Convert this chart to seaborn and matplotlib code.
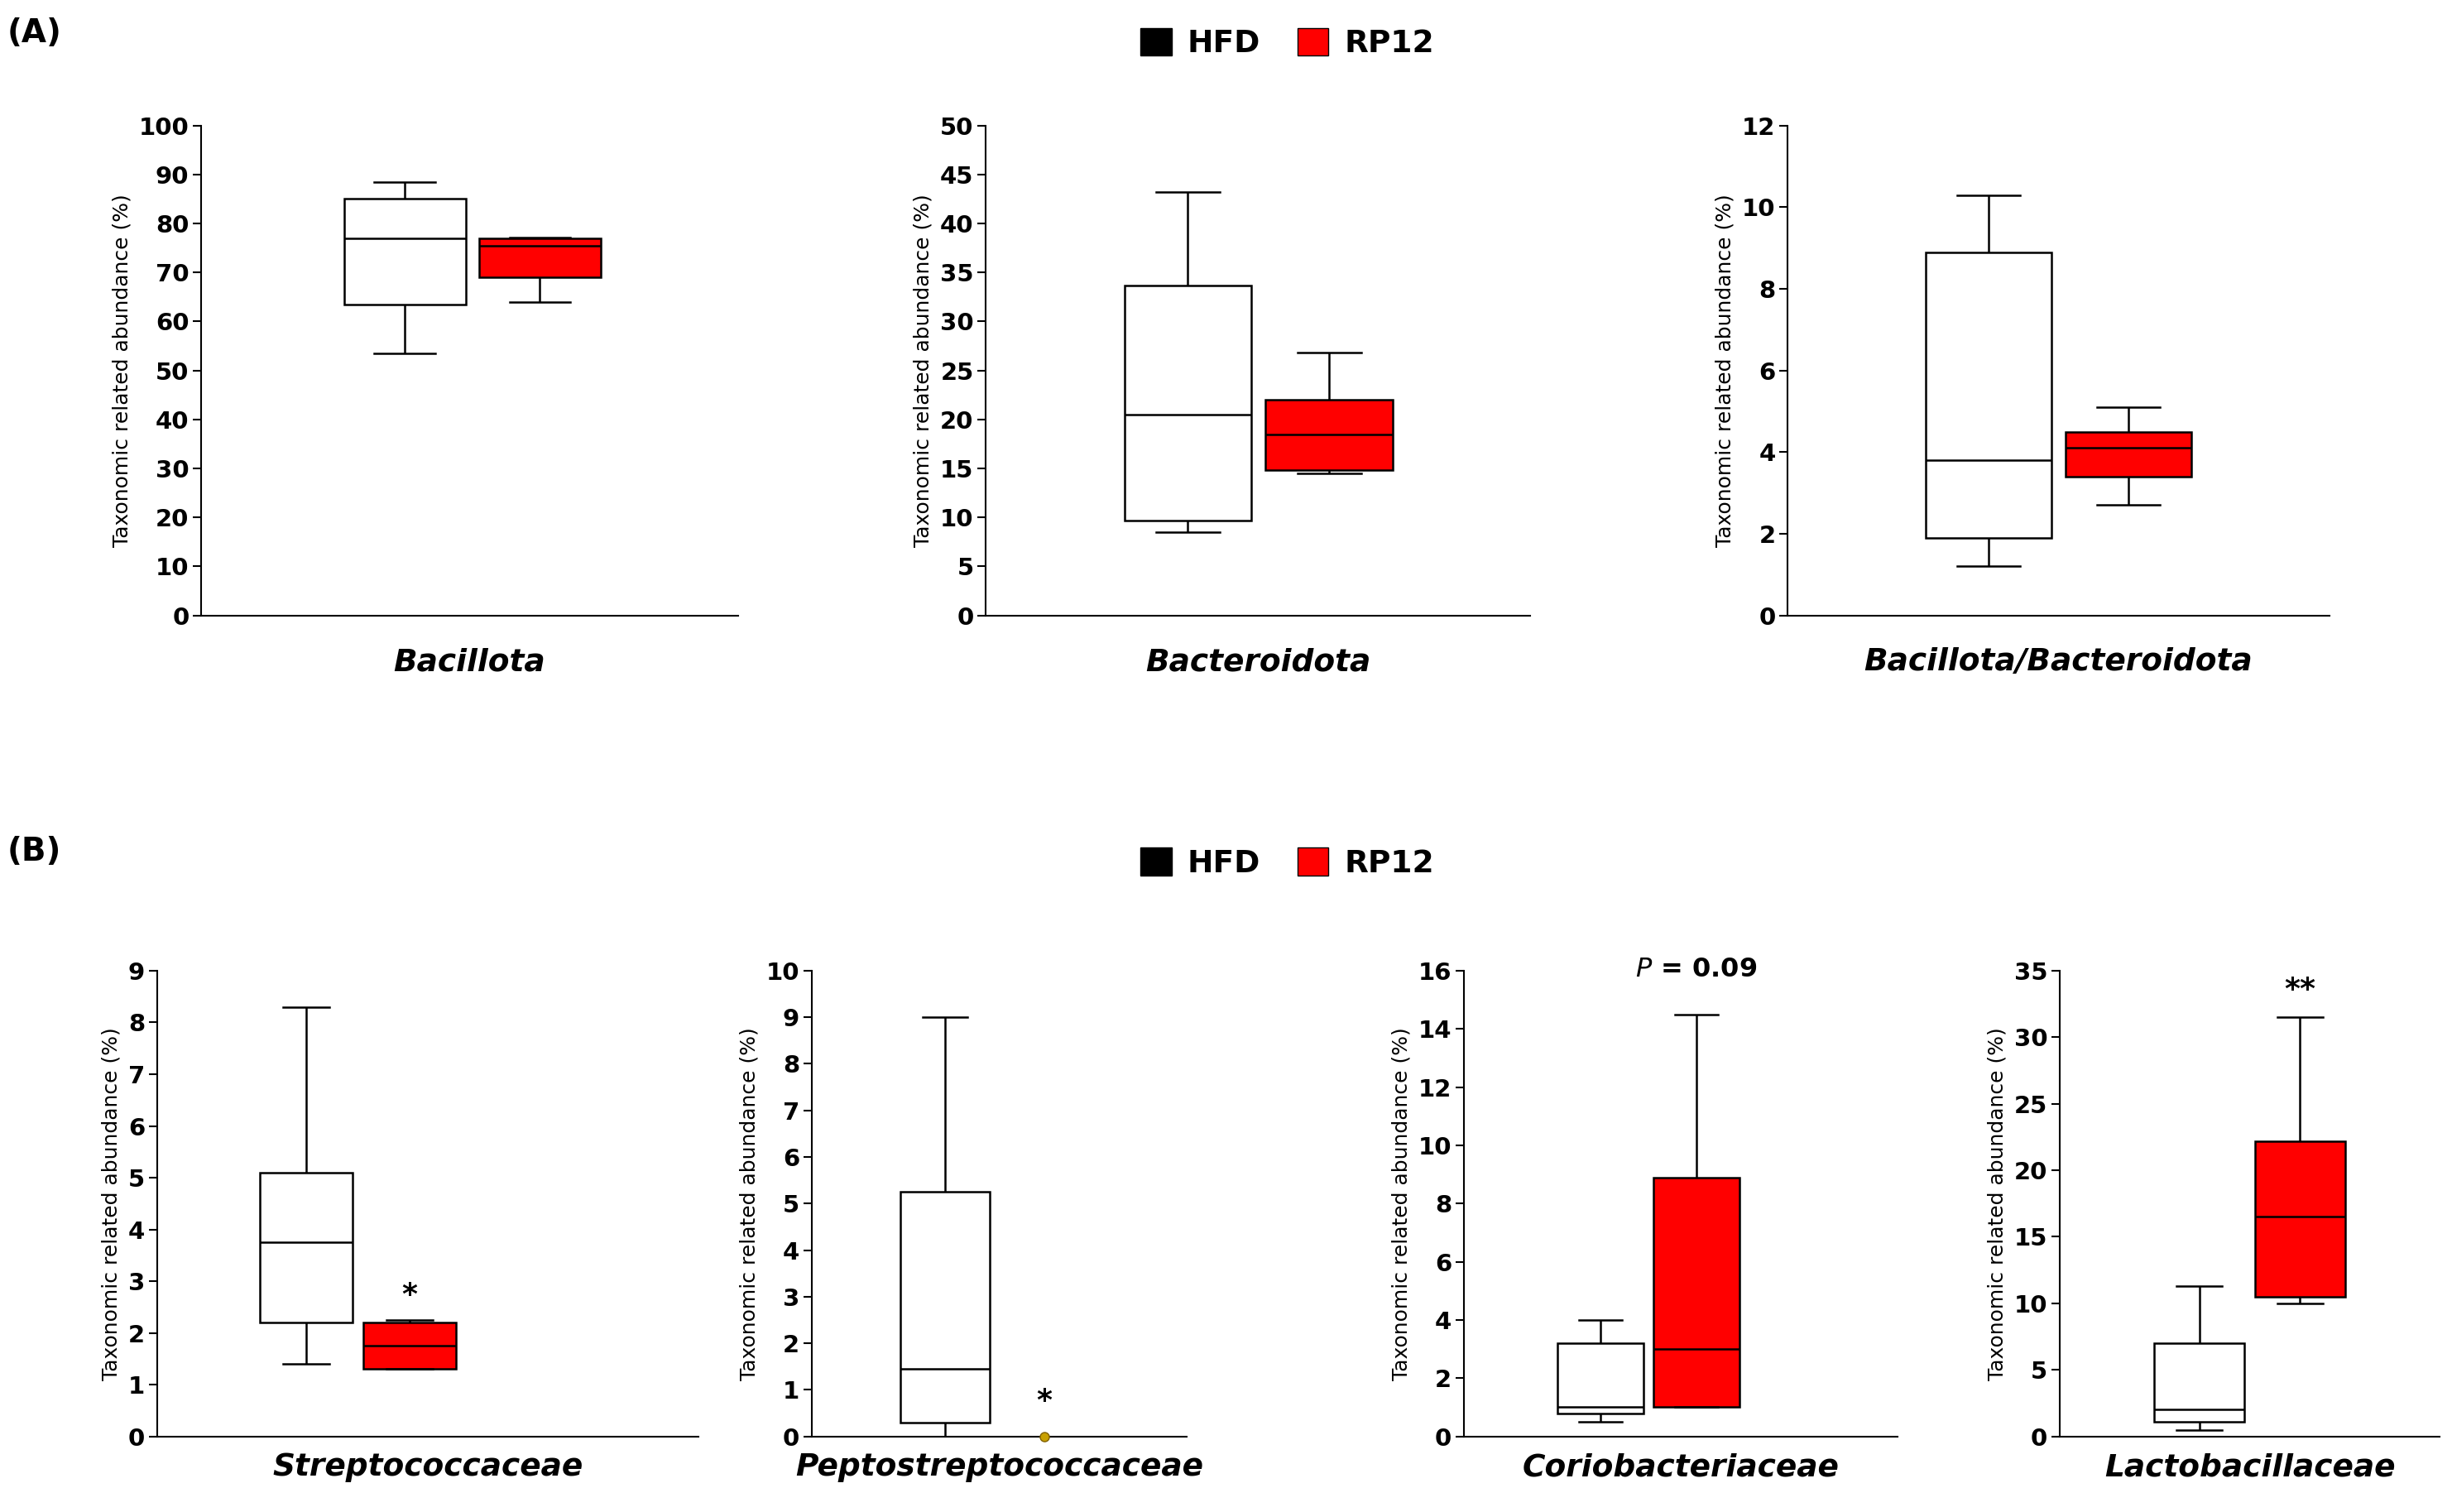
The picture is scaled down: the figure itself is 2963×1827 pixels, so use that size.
import numpy as np
import pandas as pd
import matplotlib
matplotlib.use("Agg")
import matplotlib.pyplot as plt
import seaborn as sns
from matplotlib.patches import Patch

groups = ["HFD", "RP12"]
# five-number summaries [min, q1, median, q3, max]
bacillota_hfd = [53.5, 63.5, 77.0, 85.0, 88.5]
bacillota_rp12 = [64.0, 69.0, 75.5, 77.0, 77.2]
bacteroidota_hfd = [8.5, 9.7, 20.5, 33.7, 43.2]
bacteroidota_rp12 = [14.5, 14.8, 18.5, 22.0, 26.8]
ratio_hfd = [1.2, 1.9, 3.8, 8.9, 10.3]
ratio_rp12 = [2.7, 3.4, 4.1, 4.5, 5.1]
strep_hfd = [1.4, 2.2, 3.75, 5.1, 8.3]
strep_rp12 = [1.3, 1.3, 1.75, 2.2, 2.25]
pepto_hfd = [0.0, 0.3, 1.45, 5.25, 9.0]
pepto_rp12 = [0.0, 0.0, 0.0, 0.0, 0.0]
corio_hfd = [0.5, 0.8, 1.0, 3.2, 4.0]
corio_rp12 = [1.0, 1.0, 3.0, 8.9, 14.5]
lacto_hfd = [0.5, 1.1, 2.0, 7.0, 11.3]
lacto_rp12 = [10.0, 10.5, 16.5, 22.2, 31.5]

panels = [
    ("Bacillota", bacillota_hfd, bacillota_rp12, 100, 10, [0.082, 0.593, 0.219, 0.324], (-1.51, 2.47), None),
    ("Bacteroidota", bacteroidota_hfd, bacteroidota_rp12, 50, 5, [0.402, 0.593, 0.222, 0.324], (-1.43, 2.42), None),
    ("Bacillota/Bacteroidota", ratio_hfd, ratio_rp12, 12, 2, [0.729, 0.593, 0.221, 0.324], (-1.44, 2.44), None),
    ("Streptococcaceae", strep_hfd, strep_rp12, 9, 1, [0.064, 0.050, 0.221, 0.308], (-1.44, 3.79), ("*", 2.45)),
    ("Peptostreptococcaceae", pepto_hfd, pepto_rp12, 10, 1, [0.331, 0.050, 0.153, 0.308], (-1.35, 2.44), ("*", 0.45)),
    ("Coriobacteriaceae", corio_hfd, corio_rp12, 16, 2, [0.597, 0.050, 0.177, 0.308], (-1.43, 3.11), ("P", 15.6)),
    ("Lactobacillaceae", lacto_hfd, lacto_rp12, 35, 5, [0.840, 0.050, 0.155, 0.308], (-1.39, 2.39), ("**", 32.5)),
]

fig = plt.figure(figsize=(29.63, 18.27), dpi=100)
palette = {"HFD": "white", "RP12": "#ff0000"}

for i, (name, h, r, ymax, step, rect, xlim, ann) in enumerate(panels):
    ax = fig.add_axes(rect)
    df = pd.DataFrame({"group": ["HFD"] * len(h) + ["RP12"] * len(r), "value": h + r})
    sns.boxplot(data=df, x="group", y="value", hue="group", order=groups, hue_order=groups,
                palette=palette, saturation=1, legend=False, width=0.9, whis=np.inf, linecolor="black",
                linewidth=1.8, ax=ax, capprops={"linewidth": 1.8})
    if name == "Peptostreptococcaceae":
        ax.plot([1], [0], "o", color="#c8a000", markeredgecolor="#806000", markersize=8, zorder=5, clip_on=False)
    ax.set_xlim(*xlim)
    ax.set_ylim(0, ymax)
    ax.set_yticks(np.arange(0, ymax + step / 2, step))
    ax.set_xticks([])
    ax.set_xlabel(name, fontsize=27, fontweight="bold", fontstyle="italic", labelpad=28 if i < 3 else 14)
    ax.set_ylabel("Taxonomic related abundance (%)", fontsize=18, labelpad=6)
    for s in ["top", "right"]:
        ax.spines[s].set_visible(False)
    for s in ["left", "bottom"]:
        ax.spines[s].set_linewidth(1.5)
    ax.tick_params(axis="y", labelsize=21, width=1.5, length=7)
    for t in ax.get_yticklabels():
        t.set_fontweight("bold")
    if ann:
        txt, y = ann
        if txt == "P":
            ax.text(1, y, r"$\bf{\it{P}}$ = 0.09", ha="center", va="bottom", fontsize=23, fontweight="bold")
        else:
            ax.text(1, y, txt, ha="center", va="bottom", fontsize=26, fontweight="bold")

handles = [Patch(facecolor="black", edgecolor="black", label="HFD"),
           Patch(facecolor="#ff0000", edgecolor="black", label="RP12")]
for y in [1.0, 0.458]:
    fig.legend(handles=handles, loc="upper center", bbox_to_anchor=(0.525, y), ncol=2, frameon=False,
               prop={"size": 27, "weight": "bold"}, handlelength=1.0, handleheight=1.0,
               columnspacing=1.2, handletextpad=0.5)
fig.text(0.003, 0.978, "(A)", fontsize=28, fontweight="bold", va="center")
fig.text(0.003, 0.437, "(B)", fontsize=28, fontweight="bold", va="center")

fig.savefig("out.png", dpi=100)
